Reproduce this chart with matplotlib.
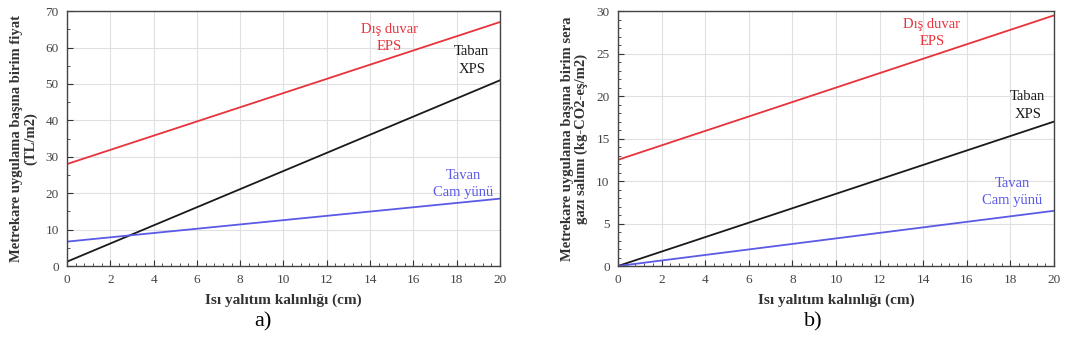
import numpy as np
import matplotlib
matplotlib.use("Agg")
import matplotlib.pyplot as plt
from matplotlib.ticker import MultipleLocator

plt.rcParams.update({
    "font.family": "serif",
    "font.serif": ["Liberation Serif", "DejaVu Serif"],
})

# ─────────────────────────────────────────────
# Data
# ─────────────────────────────────────────────
thickness = [0, 20]  # cm

# a) unit price (TL/m2)
cost_dis_duvar = [28.0, 67.0]
cost_taban     = [1.2, 51.0]
cost_tavan     = [6.7, 18.5]

# b) unit greenhouse gas emission (kg-CO2-eş/m2)
co2_dis_duvar = [12.5, 29.5]
co2_taban     = [0.0, 17.0]
co2_tavan     = [0.0, 6.5]

RED   = "#e8323c"
BLACK = "#1a1a1a"
BLUE  = "#5a5ae6"

fig = plt.figure(figsize=(10.74, 3.59), dpi=100)
ax_a = fig.add_axes([0.0624, 0.259, 0.4031, 0.710])
ax_b = fig.add_axes([0.5754, 0.259, 0.4060, 0.710])


def style_axes(ax, ymax, ymajor, yminor):
    ax.set_xlim(0, 20)
    ax.set_ylim(0, ymax)
    ax.xaxis.set_major_locator(MultipleLocator(2))
    ax.xaxis.set_minor_locator(MultipleLocator(0.4))
    ax.yaxis.set_major_locator(MultipleLocator(ymajor))
    ax.yaxis.set_minor_locator(MultipleLocator(yminor))
    ax.tick_params(which="both", direction="in", colors="#333333",
                   labelsize=9.5, labelcolor="#444444", pad=6)
    ax.tick_params(which="major", length=4)
    ax.tick_params(which="minor", length=2.5)
    ax.grid(True, which="major", color="#e0e0e0", linewidth=0.8)
    ax.set_axisbelow(True)
    for s in ax.spines.values():
        s.set_color("#444444")
        s.set_linewidth(1.0)
    ax.set_xlabel("Isı yalıtım kalınlığı (cm)", fontsize=11,
                  fontweight="bold", color="#333333", labelpad=5)


def label(ax, x, y, txt, color):
    ax.text(x, y, txt, color=color, fontsize=10.5, ha="center", va="center",
            linespacing=1.45)


# a) cost
ax_a.plot(thickness, cost_dis_duvar, color=RED, lw=1.3)
ax_a.plot(thickness, cost_taban, color=BLACK, lw=1.3)
ax_a.plot(thickness, cost_tavan, color=BLUE, lw=1.3)
style_axes(ax_a, 70, 10, 5)
ax_a.set_ylabel("Metrekare uygulama başına birim fiyat\n(TL/m2)", fontsize=10.5,
                fontweight="bold", color="#333333", labelpad=6, linespacing=1.0)
label(ax_a, 14.9, 62.6, "Dış duvar\nEPS", RED)
label(ax_a, 18.7, 56.5, "Taban\nXPS", BLACK)
label(ax_a, 18.3, 22.5, "Tavan\nCam yünü", BLUE)

# b) emissions
ax_b.plot(thickness, co2_dis_duvar, color=RED, lw=1.3)
ax_b.plot(thickness, co2_taban, color=BLACK, lw=1.3)
ax_b.plot(thickness, co2_tavan, color=BLUE, lw=1.3)
style_axes(ax_b, 30, 5, 1)
ax_b.set_ylabel("Metrekare uygulama başına birim sera\ngazı salımı (kg-CO2-eş/m2)",
                fontsize=10.5, fontweight="bold", color="#333333", labelpad=6,
                linespacing=1.0)
label(ax_b, 14.4, 27.4, "Dış duvar\nEPS", RED)
label(ax_b, 18.8, 18.9, "Taban\nXPS", BLACK)
label(ax_b, 18.1, 8.7, "Tavan\nCam yünü", BLUE)

# panel captions
fig.text(263 / 1074, 1 - 322 / 359, "a)", fontsize=16, ha="center", va="center")
fig.text(813 / 1074, 1 - 322 / 359, "b)", fontsize=16, ha="center", va="center")

fig.savefig("out.png", dpi=100)
